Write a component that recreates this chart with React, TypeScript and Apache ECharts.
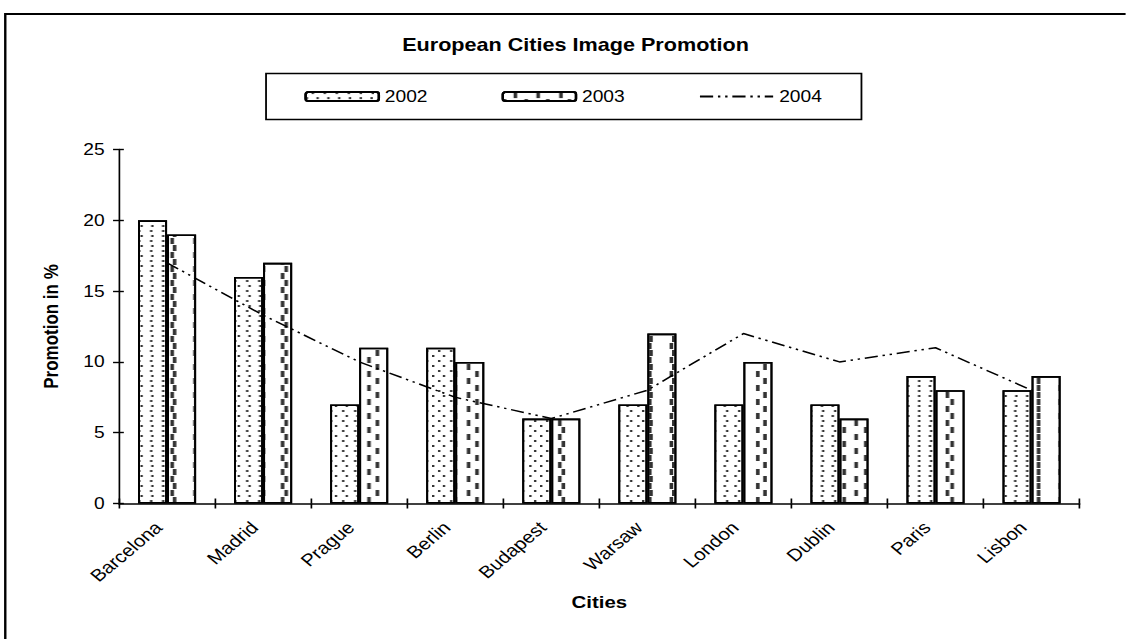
import React, { useEffect, useRef } from "react";
import * as echarts from "echarts";

const cities = ["Barcelona", "Madrid", "Prague", "Berlin", "Budapest", "Warsaw", "London", "Dublin", "Paris", "Lisbon"];
const values2002 = [20, 16, 7, 11, 6, 7, 7, 7, 9, 8];
const values2003 = [19, 17, 11, 10, 6, 12, 10, 6, 8, 9];
const values2004 = [17, 13.3, 10, 7.5, 6, 8, 12, 10, 11, 8];
const seriesNames = ["2002", "2003", "2004"];
const titleText = "European Cities Image Promotion";
const yAxisTitle = "Promotion in %";
const xAxisTitle = "Cities";

const SX = 1.2;
const W = 1126 / SX;
const H = 639;
const FONT = '"Liberation Sans", Arial, sans-serif';

export default function App() {
  const ref = useRef<HTMLDivElement>(null);
  useEffect(() => {
    if (!ref.current) return;
    const chart = echarts.init(ref.current, null, { renderer: "svg" });
    const dotDecal = {
      symbol: "rect",
      symbolSize: 1,
      symbolKeepAspect: false,
      color: "#333",
      dashArrayX: [[1.6, 6.7], [0, 4.15, 1.6, 2.55]],
      dashArrayY: [1.6, 2.6],
    };
    const dashDecal = {
      symbol: "rect",
      symbolSize: 1,
      symbolKeepAspect: false,
      color: "#333",
      dashArrayX: [[2.2, 14.4], [0, 8.3, 2.2, 6.1]],
      dashArrayY: [6, 0.8],
    };
    const hiddenAxisParts = {
      axisLine: { show: false },
      axisLabel: { show: false },
      splitLine: { show: false },
    };
    chart.setOption({
      animation: false,
      backgroundColor: "#fff",
      textStyle: { fontFamily: FONT },
      graphic: [
        {
          type: "rect",
          shape: { x: 4.4, y: 14, width: 1200, height: 800 },
          style: { fill: "none", stroke: "#000", lineWidth: 2 },
          silent: true,
        },
        {
          type: "text",
          x: 479.6,
          y: 45,
          style: {
            text: titleText,
            fontSize: 18,
            fontWeight: "bold",
            fontFamily: FONT,
            fill: "#000",
            align: "center",
            verticalAlign: "middle",
          },
        },
      ],
      legend: {
        data: [
          { name: seriesNames[0] },
          { name: seriesNames[1] },
          { name: seriesNames[2], itemStyle: { opacity: 0 } },
        ],
        left: 221.7,
        top: 73.6,
        padding: [15, 33, 15, 32],
        itemGap: 61.7,
        itemWidth: 61,
        itemHeight: 9,
        borderColor: "#000",
        borderWidth: 1.5,
        textStyle: { fontSize: 16, color: "#000", fontFamily: FONT },
      },
      grid: { left: 99.2, right: W - 900, top: 149.5, bottom: 135.5, containLabel: false },
      xAxis: [
        {
          type: "category",
          data: cities,
          name: xAxisTitle,
          nameLocation: "middle",
          nameGap: 90,
          nameTextStyle: { fontSize: 17, fontWeight: "bold", color: "#000", fontFamily: FONT },
          axisLine: { lineStyle: { color: "#000", width: 1.6 } },
          axisTick: { show: true, length: 5, lineStyle: { color: "#000", width: 1.4 } },
          axisLabel: { rotate: 45, fontSize: 17, color: "#000", margin: 14, interval: 0, padding: [0, 10, 0, 0] },
        },
        {
          type: "category",
          data: cities,
          position: "bottom",
          offset: 0,
          ...hiddenAxisParts,
          axisTick: { show: true, inside: true, length: 5, lineStyle: { color: "#000", width: 1.4 } },
        },
      ],
      yAxis: [
        {
          type: "value",
          min: 0,
          max: 25,
          interval: 5,
          name: yAxisTitle,
          nameLocation: "middle",
          nameGap: 48,
          nameRotate: 90,
          nameTextStyle: { fontSize: 17, fontWeight: "bold", color: "#000", fontFamily: FONT },
          splitLine: { show: false },
          axisLine: { show: true, lineStyle: { color: "#000", width: 1.4 } },
          axisTick: { show: true, length: 5, lineStyle: { color: "#000", width: 1.4 } },
          axisLabel: { fontSize: 16, color: "#000", margin: 12 },
        },
        {
          type: "value",
          min: 0,
          max: 25,
          interval: 5,
          position: "left",
          offset: 0,
          ...hiddenAxisParts,
          axisTick: { show: true, inside: true, length: 4, lineStyle: { color: "#000", width: 1.4 } },
        },
      ],
      series: [
        {
          name: seriesNames[0],
          type: "bar",
          data: values2002,
          barWidth: 24.2,
          barGap: "0%",
          itemStyle: { color: "#fff", borderColor: "#000", borderWidth: 1.6, decal: dotDecal },
        },
        {
          name: seriesNames[1],
          type: "bar",
          data: values2003,
          barWidth: 24.2,
          barGap: "0%",
          itemStyle: { color: "#fff", borderColor: "#000", borderWidth: 1.6, decal: dashDecal },
        },
        {
          name: seriesNames[2],
          type: "line",
          data: values2004,
          symbol: "none",
          z: 5,
          lineStyle: { color: "#000", width: 1.5, type: [11, 4, 2, 4, 2, 4] },
          itemStyle: { color: "#000" },
        },
      ],
    });
    return () => chart.dispose();
  }, []);
  return (
    <div
      ref={ref}
      style={{
        position: "fixed",
        left: 0,
        top: 0,
        width: W,
        height: H,
        transform: `scaleX(${SX})`,
        transformOrigin: "0 0",
        background: "#fff",
      }}
    />
  );
}
